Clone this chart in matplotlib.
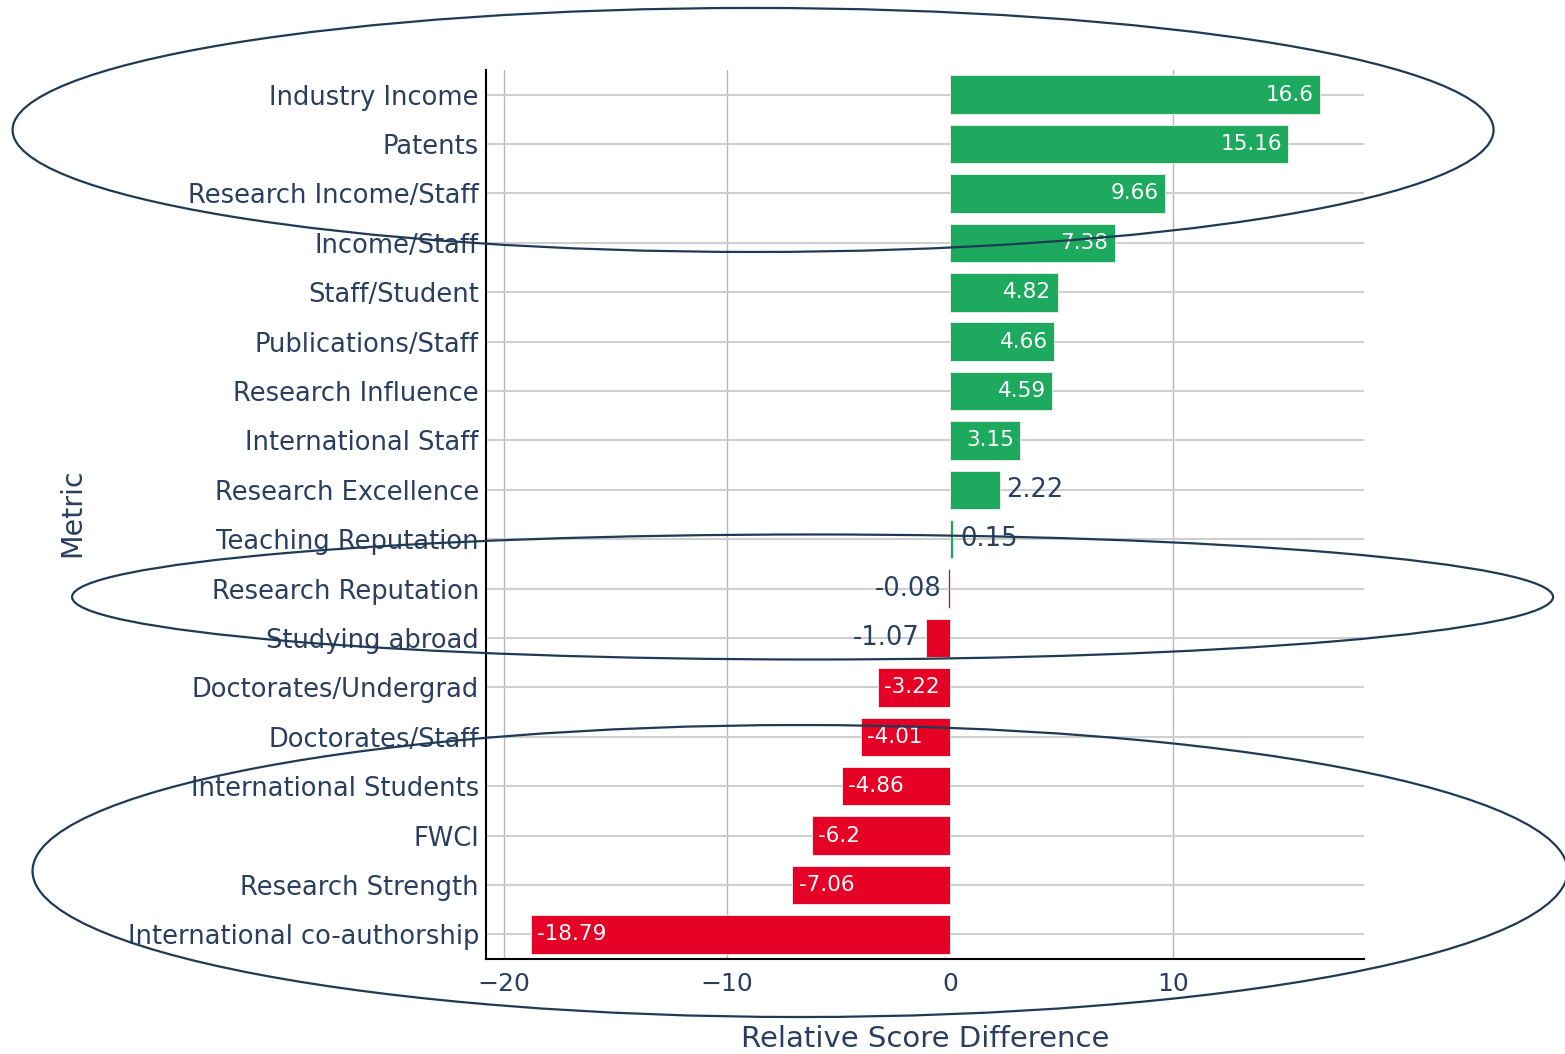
import matplotlib.pyplot as plt
from matplotlib.patches import Ellipse

metrics = ['Industry Income', 'Patents', 'Research Income/Staff', 'Income/Staff',
           'Staff/Student', 'Publications/Staff', 'Research Influence',
           'International Staff', 'Research Excellence', 'Teaching Reputation',
           'Research Reputation', 'Studying abroad', 'Doctorates/Undergrad',
           'Doctorates/Staff', 'International Students', 'FWCI',
           'Research Strength', 'International co-authorship']
diffs = [16.6, 15.16, 9.66, 7.38, 4.82, 4.66, 4.59, 3.15, 2.22, 0.15,
         -0.08, -1.07, -3.22, -4.01, -4.86, -6.2, -7.06, -18.79]

green = '#1daa5f'
red = '#e60026'
txt = '#2a3f5f'

plt.rcParams['font.family'] = 'DejaVu Sans'
fig = plt.figure(figsize=(15.65, 10.54), dpi=100)
ax = fig.add_axes([0.3105, 0.0901, 0.5611, 0.8435])

ypos = list(range(len(metrics)))
cols = [green if v >= 0 else red for v in diffs]
ax.barh(ypos, diffs, height=0.78, color=cols, edgecolor='#f0f0f0', linewidth=0.6, zorder=2)

for y, v in zip(ypos, diffs):
    lab = f"{v:g}"
    if abs(v) < 2.5:
        # too small, label outside the bar
        if v >= 0:
            ax.text(v + 0.3, y, lab, va='center', ha='left', fontsize=18.5, color=txt, zorder=3)
        else:
            ax.text(v - 0.3, y, lab, va='center', ha='right', fontsize=18.5, color=txt, zorder=3)
    else:
        if v >= 0:
            ax.text(v - 0.28, y, lab, va='center', ha='right', fontsize=15.5, color='white', zorder=3)
        else:
            ax.text(v + 0.28, y, lab, va='center', ha='left', fontsize=15.5, color='white', zorder=3)

ax.set_xlim(-20.8, 18.56)
ax.set_ylim(17.5, -0.5)
ax.set_yticks(ypos)
ax.set_yticklabels(metrics)
ax.set_xticks([-20, -10, 0, 10])

ax.grid(axis='y', color='#cfcfcf', linewidth=1.5, zorder=0)
for xv in [-20, -10, 10]:
    ax.axvline(xv, color='#b8b8b8', linewidth=1.0, zorder=0)
ax.set_axisbelow(True)

for s in ['top', 'right']:
    ax.spines[s].set_visible(False)
ax.spines['left'].set_linewidth(1.5)
ax.spines['bottom'].set_linewidth(1.5)
ax.tick_params(axis='y', length=0, pad=5, labelsize=18.5, labelcolor=txt)
ax.tick_params(axis='x', length=0, pad=9, labelsize=18, labelcolor=txt)

ax.set_xlabel('Relative Score Difference', fontsize=21, color=txt, labelpad=21)
fig.text(0.046, 0.514, 'Metric', rotation=90, fontsize=20.5, color=txt, ha='center', va='center')

# annotation ellipses
ell_col = '#1f3a55'
fig.add_artist(Ellipse((0.4812, 0.8767), 0.9463, 0.2315, transform=fig.transFigure,
                       fill=False, edgecolor=ell_col, linewidth=1.6, zorder=10))
fig.add_artist(Ellipse((0.5192, 0.4336), 0.9463, 0.1186, transform=fig.transFigure,
                       fill=False, edgecolor=ell_col, linewidth=1.6, zorder=10))
fig.add_artist(Ellipse((0.5112, 0.1736), 0.9808, 0.2770, transform=fig.transFigure,
                       fill=False, edgecolor=ell_col, linewidth=1.6, zorder=10))

plt.savefig('out.png', dpi=100)
